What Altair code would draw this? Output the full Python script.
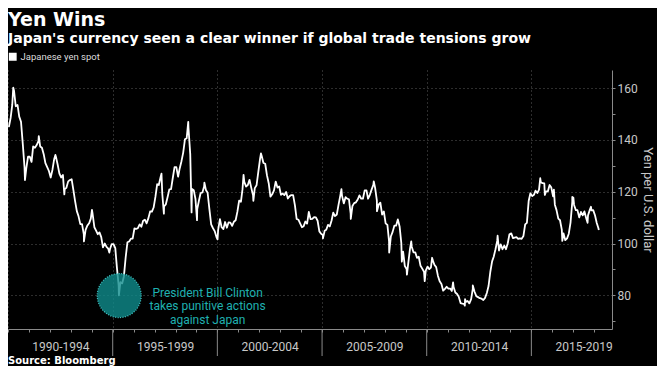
import altair as alt
import pandas as pd

# ---- data: USD/JPY, monthly readings plus notable extremes ----
vals_1990_1994 = [
    145.0, 148.5, 153.5, 159.0, 153.0, 153.5, 149.0, 147.0, 138.5, 129.5, 129.0, 133.5,
    133.5, 131.5, 137.5, 137.0, 138.0, 139.5, 137.5, 137.0, 134.5, 131.0, 129.5, 128.0,
    125.5, 128.5, 132.5, 133.5, 130.5, 127.0, 125.5, 126.5, 121.0, 121.5, 124.0, 124.5,
    124.8, 120.5, 116.5, 112.5, 110.5, 107.5, 107.5, 103.5, 105.3, 106.9, 107.8, 109.6,
    111.5, 106.3, 105.1, 103.6, 104.3, 102.5, 98.5, 100.0, 98.7, 98.0, 97.9, 99.8]
vals_1995_1999 = [
    99.8, 98.2, 90.8, 83.7, 85.1, 84.6, 87.3, 94.6, 100.5, 100.8, 101.9, 101.9,
    105.8, 105.7, 105.9, 107.4, 106.5, 108.8, 109.2, 107.8, 109.8, 112.4, 112.3, 113.9,
    118.0, 122.9, 122.6, 125.6, 119.2, 114.3, 115.1, 117.9, 120.9, 121.0, 125.4, 129.5,
    129.5, 125.8, 129.0, 131.8, 135.1, 140.3, 140.7, 144.7, 134.5, 121.1, 120.6, 117.2,
    113.3, 116.7, 119.5, 119.7, 122.0, 120.7, 119.6, 113.3, 107.4, 106.0, 104.8, 102.6]
vals_2000_2004 = [
    105.3, 109.4, 106.3, 105.6, 108.3, 106.1, 108.2, 108.1, 106.8, 108.4, 109.0, 112.2,
    116.6, 116.1, 121.0, 123.8, 122.0, 122.6, 124.6, 121.5, 118.6, 121.4, 122.5, 127.6,
    132.7, 133.6, 131.1, 130.8, 126.4, 123.3, 118.1, 119.0, 120.5, 123.9, 121.6, 122.0,
    118.8, 119.3, 118.7, 119.9, 117.4, 118.3, 118.7, 118.7, 114.8, 109.5, 109.2, 107.8,
    106.3, 106.7, 108.5, 107.7, 112.2, 109.4, 109.5, 110.2, 110.1, 108.8, 104.7, 103.8]
vals_2005_2009 = [
    103.3, 104.9, 105.3, 107.2, 106.6, 108.8, 111.9, 110.6, 111.2, 114.9, 118.5, 118.5,
    115.5, 117.9, 117.3, 117.1, 111.5, 114.5, 115.6, 115.9, 117.0, 118.6, 117.3, 117.3,
    120.5, 120.5, 117.3, 118.8, 120.8, 122.7, 121.6, 116.7, 115.0, 115.8, 111.2, 112.4,
    107.8, 107.2, 100.8, 102.7, 104.4, 106.9, 106.9, 109.3, 106.6, 100.1, 96.9, 91.3,
    90.2, 92.8, 97.9, 98.8, 96.6, 96.6, 94.5, 94.9, 91.4, 90.3, 89.1, 89.5]
vals_2010_2014 = [
    91.1, 90.1, 90.7, 93.6, 91.8, 90.9, 87.6, 85.4, 84.4, 81.8, 82.5, 83.3,
    82.6, 82.6, 81.7, 83.2, 81.1, 80.5, 79.4, 77.0, 76.8, 76.7, 77.5, 77.8,
    76.9, 78.5, 82.5, 81.4, 79.7, 79.3, 78.9, 78.7, 78.2, 79.0, 80.9, 83.6,
    89.1, 93.1, 94.9, 97.8, 101.0, 97.3, 99.7, 97.8, 99.2, 97.8, 100.1, 103.6,
    103.9, 102.1, 102.3, 102.5, 101.8, 102.0, 101.8, 102.9, 107.4, 108.0, 116.4, 119.4]
vals_2015_2018 = [
    118.3, 118.8, 120.4, 119.5, 120.8, 123.7, 123.3, 123.2, 120.1, 120.1, 122.6, 121.6,
    118.2, 115.0, 112.9, 109.6, 109.0, 105.4, 103.9, 101.3, 102.0, 103.8, 108.2, 116.1,
    114.9, 112.9, 112.9, 110.1, 112.2, 110.9, 112.4, 109.8, 110.8, 112.9, 112.8, 112.9,
    110.9, 107.9, 106.0]

extreme_dates = [
    "1990-04-02", "1990-10-23", "1991-06-21", "1992-04-06", "1992-09-09", "1993-08-17",
    "1994-01-04", "1994-11-03", "1995-04-19", "1997-05-01", "1997-06-12", "1998-08-11",
    "1998-10-08", "1999-01-11", "1999-05-20", "2000-01-04", "2001-04-02", "2001-09-20",
    "2002-01-31", "2005-01-17", "2005-12-05", "2006-05-17", "2007-06-22", "2007-08-17",
    "2008-03-17", "2008-10-24", "2009-01-21", "2009-04-06", "2009-11-27", "2010-04-05",
    "2011-04-06", "2011-10-28", "2011-11-01", "2012-03-15", "2013-05-22", "2015-06-05",
    "2015-08-24", "2016-01-29", "2016-06-24", "2016-12-15", "2017-01-03", "2017-09-08",
    "2017-11-06", "2018-03-23"]
extreme_values = [
    160.2, 124.5, 141.5, 134.2, 119.0, 100.8,
    113.0, 96.5, 80.0, 127.0, 111.5, 147.0,
    112.0, 109.0, 123.5, 101.6, 126.5, 116.5,
    134.8, 102.0, 121.0, 109.5, 124.0, 112.5,
    96.5, 93.0, 88.0, 100.8, 85.5, 94.5,
    85.0, 76.0, 78.5, 83.8, 103.0, 125.2,
    118.8, 120.8, 101.0, 118.0, 117.7, 108.0,
    114.2, 105.2]

series_name = "Japanese yen spot"
divider_years = ["1995-01-01", "2000-01-01", "2005-01-01", "2010-01-01", "2015-01-01"]
y_tick_values = [70, 80, 90, 100, 110, 120, 130, 140, 150, 160]

title_text = "Yen Wins"
subtitle_text = "Japan's currency seen a clear winner if global trade tensions grow"
source_text = "Source: Bloomberg"
note_text = "President Bill Clinton\ntakes punitive actions\nagainst Japan"
note_date, note_value = "1999-07-15", 81.0
circle_date, circle_value = "1995-04-25", 79.9

# ---- build table ----
monthly = vals_1990_1994 + vals_1995_1999 + vals_2000_2004 + vals_2005_2009 + vals_2010_2014 + vals_2015_2018
mdates = (pd.date_range("1990-01-01", periods=len(monthly), freq="MS") + pd.Timedelta(days=14)).strftime("%Y-%m-%d")
df = pd.concat([
    pd.DataFrame({"date": list(mdates), "value": monthly}),
    pd.DataFrame({"date": extreme_dates, "value": extreme_values}),
]).sort_values("date").reset_index(drop=True)
df["series"] = series_name

W, H = 604, 259
FONT = "Roboto"

xscale = alt.Scale(type="utc", domain=[alt.DateTime(year=1989, month=12, date=31, utc=True),
                                       alt.DateTime(year=2018, month=11, date=8, utc=True)])
yscale = alt.Scale(domain=[67, 167], nice=False, zero=False)

x_values = [alt.DateTime(year=y, month=1, date=1, utc=True) for y in range(1990, 2019)] + \
           [alt.DateTime(year=y, month=7, date=2, utc=True) for y in range(1992, 2018, 5)]

x_axis = alt.Axis(
    values=x_values, title=None, orient="bottom",
    labelExpr="utcmonth(datum.value) == 6 ? (utcyear(datum.value) - 2) + '-' + (utcyear(datum.value) + 2) : ''",
    labelOverlap=False, labelFlush=False, labelColor="#c8c8c8", labelFontSize=12, labelFont=FONT,
    labelPadding=9,
    tickSize=3, tickColor="#8a8a8a",
    tickOpacity={"condition": {"test": "utcmonth(datum.value) == 6", "value": 0}, "value": 1},
    domainColor="#8a8a8a",
    grid=True, gridColor="#5a5a5a", gridDash=[1, 3],
    gridOpacity={"condition": {"test": "utcmonth(datum.value) == 0 && utcyear(datum.value) % 5 == 0", "value": 1}, "value": 0},
)
y_axis = alt.Axis(
    orient="right", values=y_tick_values,
    labelExpr="datum.value % 20 == 0 ? datum.label : ''",
    labelColor="#c8c8c8", labelFontSize=12, labelFont=FONT, labelPadding=2,
    tickSize=3, tickColor="#8a8a8a", domainColor="#8a8a8a",
    grid=True, gridColor="#5a5a5a", gridDash=[1, 3],
    gridOpacity={"condition": {"test": "datum.value % 20 == 0", "value": 1}, "value": 0},
    title="Yen per U.S. dollar", titleColor="#c8c8c8", titleFontSize=13, titleFont=FONT,
    titleFontWeight="normal", titlePadding=3,
)

X = alt.X("date:T", scale=xscale, axis=x_axis)
Y = alt.Y("value:Q", scale=yscale, axis=y_axis)

line = alt.Chart(df).mark_line(strokeWidth=1.8, strokeJoin="round").encode(
    x=X, y=Y,
    color=alt.Color("series:N", scale=alt.Scale(domain=[series_name], range=["#ffffff"]),
                    legend=alt.Legend(orient="none", legendX=0, legendY=-18, title=None,
                                      symbolType="square", symbolSize=40, symbolFillColor="#ffffff",
                                      symbolStrokeColor="#ffffff", labelColor="#dddddd",
                                      labelFontSize=9.5, labelFont=FONT,
                                      padding=0, labelOffset=3)),
)

dividers = alt.Chart(pd.DataFrame({"date": divider_years})).mark_rule(color="#8a8a8a", strokeWidth=1).encode(
    x=X, y=alt.value(H), y2=alt.value(H + 27),
)

circle = alt.Chart(pd.DataFrame({"date": [circle_date], "value": [circle_value]})).mark_point(
    shape="circle", filled=True, size=1936, fill="#0f8c8c", fillOpacity=0.8,
    stroke="#45c8c8", strokeWidth=1.2, strokeDash=[1, 1.5], strokeOpacity=1, opacity=1,
).encode(x=X, y=Y)

note = alt.Chart(pd.DataFrame({"date": [note_date], "value": [note_value], "t": [note_text]})).mark_text(
    lineBreak="\n", align="center", baseline="middle", color="#1fb0b0", fontSize=12,
    lineHeight=13.5, font=FONT,
).encode(x=X, y=Y, text="t:N")

def label(txt, ypx, size, weight="bold", color="#ffffff", font="DejaVu Sans"):
    return alt.Chart(pd.DataFrame({"t": [txt]})).mark_text(
        align="left", baseline="alphabetic", fontSize=size, fontWeight=weight, color=color, font=font,
    ).encode(x=alt.value(0), y=alt.value(ypx), text="t:N")

title = label(title_text, -44, 19)
subtitle = label(subtitle_text, -27, 14)
source = label(source_text, H + 35, 10)

chart = alt.layer(line, dividers, circle, note, title, subtitle, source).properties(
    width=W, height=H,
    background="#000000",
    autosize=alt.AutoSizeParams(type="none"),
    padding={"left": 0, "top": 62, "right": 45, "bottom": 37},
).configure_view(stroke=None)

chart.save("out.html", embed_options={"renderer": "svg", "actions": False})
